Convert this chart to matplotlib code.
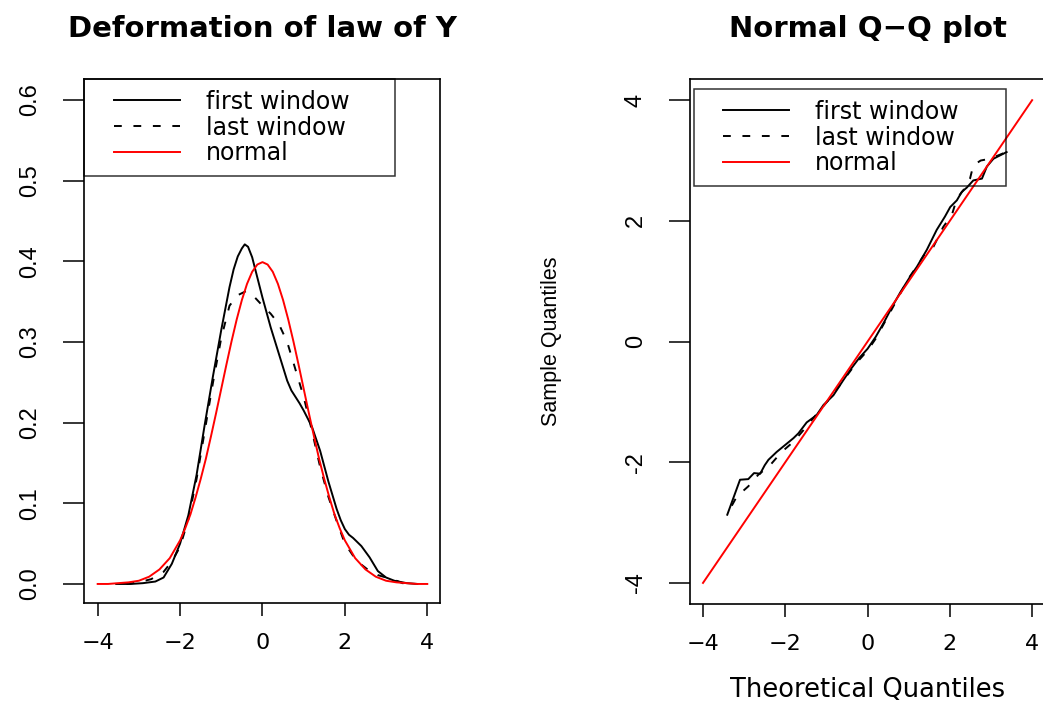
import numpy as np
import matplotlib
matplotlib.use("Agg")
import matplotlib.pyplot as plt
from matplotlib.legend_handler import HandlerLine2D

plt.rcParams['font.family'] = ['DejaVu Sans']
plt.rcParams['axes.unicode_minus'] = True

# ---- data ----
# density panel
dens_norm_x = [-4.0, -3.75, -3.5, -3.25, -3.0, -2.75, -2.5, -2.25, -2.0, -1.875, -1.75, -1.625, -1.5, -1.375, -1.25,
               -1.125, -1.0, -0.875, -0.75, -0.625, -0.5, -0.375, -0.25, -0.125, 0.0, 0.125, 0.25, 0.375, 0.5,
               0.625, 0.75, 0.875, 1.0, 1.125, 1.25, 1.375, 1.5, 1.625, 1.75, 1.875, 2.0, 2.25, 2.5, 2.75, 3.0,
               3.25, 3.5, 3.75, 4.0]
dens_norm_y = [0.000, 0.000, 0.001, 0.002, 0.004, 0.009, 0.018, 0.032, 0.054, 0.069, 0.086, 0.107, 0.130, 0.155, 0.183,
               0.212, 0.242, 0.272, 0.301, 0.328, 0.352, 0.372, 0.387, 0.396, 0.399, 0.396, 0.387, 0.372, 0.352,
               0.328, 0.301, 0.272, 0.242, 0.212, 0.183, 0.155, 0.130, 0.107, 0.086, 0.069, 0.054, 0.032, 0.018, 0.009, 0.004,
               0.002, 0.001, 0.000, 0.000]

dens_first_x = [-3.55, -3.2, -2.9, -2.6, -2.4, -2.2, -2.0, -1.8, -1.6, -1.4, -1.2, -1.0, -0.8, -0.7, -0.6, -0.5, -0.43,
                -0.35, -0.25, -0.15, 0.0, 0.2, 0.4, 0.6, 0.7, 0.8, 0.9, 1.0, 1.2, 1.4, 1.6, 1.8, 1.9, 2.0, 2.1, 2.2,
                2.4, 2.6, 2.8, 3.0, 3.2, 3.5, 3.76]
dens_first_y = [0.000, 0.000, 0.001, 0.003, 0.008, 0.025, 0.050, 0.085, 0.135, 0.198, 0.258, 0.315, 0.368, 0.390, 0.406,
                0.416, 0.421, 0.418, 0.405, 0.385, 0.355, 0.318, 0.285, 0.252, 0.240, 0.232, 0.224, 0.215, 0.195,
                0.165, 0.127, 0.093, 0.079, 0.068, 0.061, 0.057, 0.047, 0.033, 0.016, 0.008, 0.004, 0.001, 0.000]

dens_last_x = [-3.3, -3.0, -2.7, -2.4, -2.2, -2.0, -1.8, -1.6, -1.4, -1.2, -1.0, -0.8, -0.6, -0.4, -0.2,
               0.0, 0.2, 0.4, 0.6, 0.8, 1.0, 1.2, 1.4, 1.6, 1.8, 2.0, 2.2, 2.4, 2.6, 2.8, 3.0, 3.2, 3.4, 3.6]
dens_last_y = [0.000, 0.002, 0.006, 0.015, 0.028, 0.046, 0.080, 0.130, 0.190, 0.250, 0.305, 0.345, 0.358, 0.363, 0.356,
               0.345, 0.335, 0.322, 0.300, 0.266, 0.232, 0.190, 0.145, 0.108, 0.078, 0.050, 0.035, 0.024, 0.016, 0.011,
               0.008, 0.005, 0.001, 0.000]

# Q-Q panel
qq_first_x = [-3.41, -3.10, -2.90, -2.76, -2.61, -2.50, -2.41, -2.21, -1.96, -1.80, -1.68, -1.48, -1.24, -1.07, -0.83, -0.59,
              -0.40, -0.20, 0.00, 0.20, 0.40, 0.60, 0.80, 1.03, 1.20, 1.44, 1.68, 1.88, 2.01, 2.17, 2.29, 2.41, 2.57, 2.78,
              2.90, 3.06, 3.38]
qq_first_y = [-2.87, -2.29, -2.28, -2.18, -2.19, -2.05, -1.96, -1.83, -1.69, -1.60, -1.52, -1.34, -1.22, -1.05, -0.89, -0.64,
              -0.45, -0.27, -0.12, 0.08, 0.32, 0.58, 0.82, 1.07, 1.24, 1.52, 1.85, 2.07, 2.23, 2.34, 2.48, 2.55, 2.67, 2.70,
              2.90, 3.03, 3.14]

qq_last_x = [-3.30, -3.18, -2.90, -2.66, -2.37, -2.09, -1.80, -1.56, -1.32, -0.95, -0.67, -0.40, -0.20, 0.00, 0.20, 0.40,
             0.60, 0.80, 1.00, 1.20, 1.40, 1.60, 1.84, 2.05, 2.17, 2.33, 2.49, 2.57, 2.75, 2.98, 3.30]
qq_last_y = [-2.72, -2.57, -2.40, -2.21, -2.05, -1.83, -1.66, -1.47, -1.27, -0.97, -0.72, -0.47, -0.30, -0.15, 0.05, 0.30,
             0.55, 0.80, 1.05, 1.25, 1.46, 1.57, 1.90, 2.10, 2.37, 2.51, 2.70, 2.92, 3.00, 3.03, 3.12]

qq_norm_x = [-4, 4]
qq_norm_y = [-4, 4]

x_ticks = [-4, -2, 0, 2, 4]
dens_yticks = [0.0, 0.1, 0.2, 0.3, 0.4, 0.5, 0.6]
dens_ylabels = ["0.0", "0.1", "0.2", "0.3", "0.4", "0.5", "0.6"]
qq_yticks = [-4, -2, 0, 2, 4]
qq_ylabels = ["-4", "-2", "0", "2", "4"]
labels = ["first window", "last window", "normal"]

NARROW = ['Liberation Sans Narrow', 'Liberation Sans']
DASH = (0, (4, 6))


class PaddedLine(HandlerLine2D):
    # legend key line with some blank space before it, like R's legend()
    def __init__(self, lead, **kw):
        super().__init__(**kw)
        self.lead = lead

    def get_xdata(self, legend, xdescent, ydescent, width, height, fontsize):
        x0 = -xdescent + self.lead * fontsize
        x1 = -xdescent + width
        return np.array([x0, x1]), np.array([x0, x1])


def style_axes(ax, yticks, ylabels):
    for s in ax.spines.values():
        s.set_linewidth(1.2)
    ax.set_xticks(x_ticks)
    ax.set_yticks(yticks)
    ax.set_yticklabels(ylabels)
    ax.tick_params(axis='x', direction='out', length=9.5, width=1.1, pad=12, labelsize=16)
    ax.tick_params(axis='y', direction='out', length=15, width=1.1, pad=16)
    for lab in ax.get_yticklabels():
        lab.set_rotation(90)
        lab.set_va('center')
        lab.set_family(NARROW)
        lab.set_fontsize(17)


def add_key(ax, handles, anchor):
    # R legends are see-through: curves stay visible inside the box
    leg = ax.legend(handles, labels, loc='upper left', bbox_to_anchor=anchor, mode='expand',
                    borderaxespad=0, borderpad=0.45, labelspacing=0.08, handlelength=3.58,
                    handletextpad=1.1, fontsize=17, fancybox=False, facecolor='none',
                    edgecolor='black', handler_map={h: PaddedLine(0.78) for h in handles})
    leg.get_frame().set_linewidth(1.1)
    return leg


fig = plt.figure(figsize=(10.43, 7.04), dpi=100)

# left: densities
ax1 = fig.add_axes([0.0810, 0.14347, 0.3413, 0.7443])
l1, = ax1.plot(dens_first_x, dens_first_y, color='black', lw=1.4)
l2, = ax1.plot(dens_last_x, dens_last_y, color='black', lw=1.4, linestyle=DASH)
l3, = ax1.plot(dens_norm_x, dens_norm_y, color='#FF0000', lw=1.4)
ax1.set_xlim(-4.32, 4.32)
ax1.set_ylim(-0.0236, 0.626)
style_axes(ax1, dens_yticks, dens_ylabels)
ax1.set_title("Deformation of law of Y", fontsize=21, fontweight='bold', pad=30)
add_key(ax1, [l1, l2, l3], (0, 0, 0.872, 1.0))

# right: Q-Q plot
ax2 = fig.add_axes([0.6614, 0.1420, 0.3408, 0.7457])
q1, = ax2.plot(qq_first_x, qq_first_y, color='black', lw=1.4)
q2, = ax2.plot(qq_last_x, qq_last_y, color='black', lw=1.4, linestyle=DASH)
q3, = ax2.plot(qq_norm_x, qq_norm_y, color='#FF0000', lw=1.4)
ax2.set_xlim(-4.32, 4.32)
ax2.set_ylim(-4.35, 4.35)
style_axes(ax2, qq_yticks, qq_ylabels)
ax2.set_title("Normal Q\u2212Q plot", fontsize=21, fontweight='bold', pad=30)
ax2.set_xlabel("Theoretical Quantiles", fontsize=18.5)
ax2.xaxis.set_label_coords(0.5, -0.139)
ax2.set_ylabel("Sample Quantiles", fontsize=15.5, family=NARROW)
ax2.yaxis.set_label_coords(-0.36, 0.5)
add_key(ax2, [q1, q2, q3], (0.0118, 0, 0.878, 0.981))

fig.savefig("out.png", dpi=100)
